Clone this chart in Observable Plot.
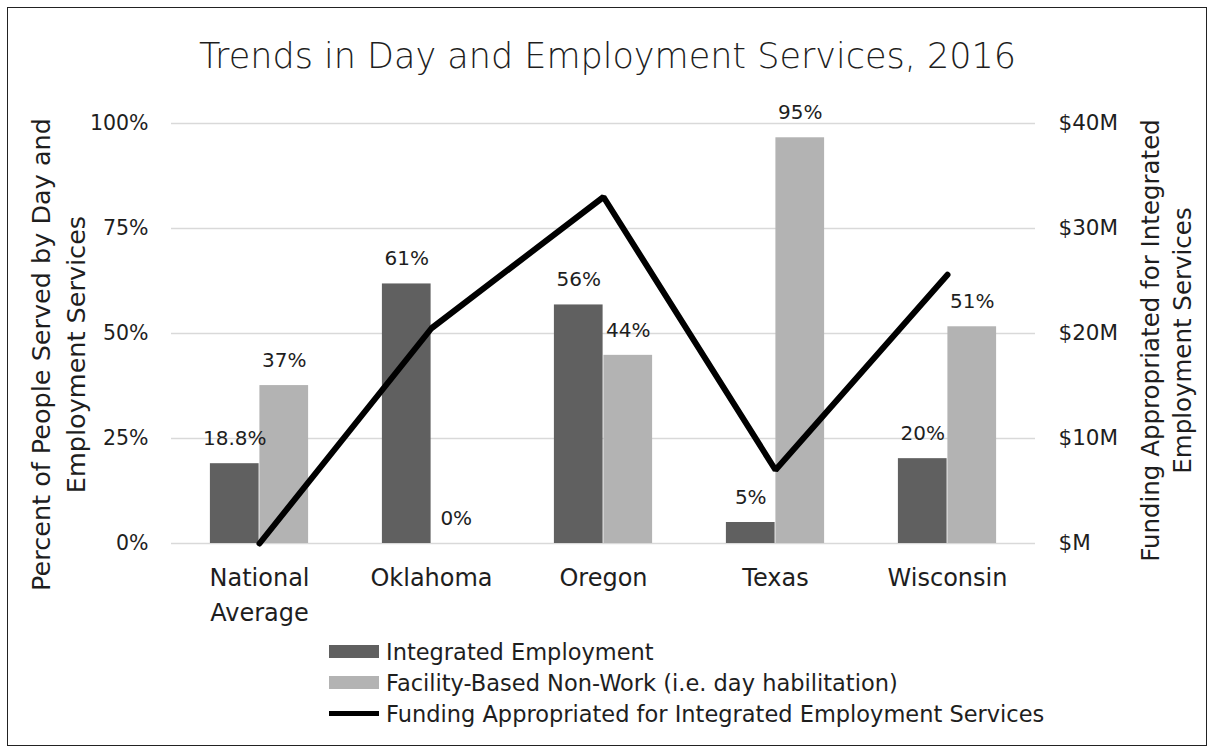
<!DOCTYPE html>
<html><head><meta charset="utf-8">
<script src="https://cdn.jsdelivr.net/npm/d3@7"></script>
<script src="https://cdn.jsdelivr.net/npm/@observablehq/plot@0.6"></script>
<style>
body{margin:0;background:#fff;}
#wrap{position:relative;width:1215px;height:751px;overflow:hidden;font-family:"DejaVu Sans",sans-serif;color:#1e1e1e;}
#border{position:absolute;left:7px;top:7px;width:1200px;height:739px;border:1.5px solid #222;box-sizing:border-box;}
#title{position:absolute;left:0;width:1215px;top:36px;text-align:center;font-size:35px;font-weight:300;}
#chart{position:absolute;left:0;top:0;}
#legend{position:absolute;left:329px;top:636px;font-size:22.5px;}
.row{display:flex;align-items:center;height:31px;}
.sw{width:50px;margin-right:7px;}
</style></head>
<body><div id="wrap"><div id="border"></div><div id="title"></div><div id="chart"></div><div id="legend"></div></div>
<script>
const title = "Trends in Day and Employment Services, 2016";
const categories = ["National\nAverage", "Oklahoma", "Oregon", "Texas", "Wisconsin"];
const integrated = [19, 61.8, 56.8, 5, 20.2];
const integratedLabels = ["18.8%", "61%", "56%", "5%", "20%"];
const facility = [37.6, 0, 44.8, 96.6, 51.6];
const facilityLabels = ["37%", "0%", "44%", "95%", "51%"];
const fundingM = [0, 20.5, 33, 7, 25.6];
const leftTicks = [0, 25, 50, 75, 100];
const rightTickLabels = ["$M", "$10M", "$20M", "$30M", "$40M"];
const seriesNames = ["Integrated Employment", "Facility-Based Non-Work (i.e. day habilitation)", "Funding Appropriated for Integrated Employment Services"];
const leftTitle = "Percent of People Served by Day and\nEmployment Services";
const rightTitle = "Funding Appropriated for Integrated\nEmployment Services";
const fundingMax = 40;

const dark = "#606060", light = "#b3b3b3", ink = "#1e1e1e";
const rowsI = categories.map((c, i) => ({c, v: integrated[i], l: integratedLabels[i]}));
const rowsF = categories.map((c, i) => ({c, v: facility[i], l: facilityLabels[i]}));
const rowsL = categories.map((c, i) => ({c, v: fundingM[i] / fundingMax * 100}));

const W = 1215, mL = 171, mR = 180;
const band = (W - mL - mR) / categories.length;
const barW = 49.5;

document.getElementById("title").textContent = title;

const plot = Plot.plot({
  width: W, height: 640,
  marginTop: 123, marginBottom: 97, marginLeft: mL, marginRight: mR,
  style: {fontFamily: '"DejaVu Sans", sans-serif', color: ink, background: "transparent"},
  x: {domain: categories, padding: 0, label: null},
  y: {domain: [0, 100], label: null},
  marks: [
    Plot.ruleY(leftTicks, {stroke: "#d9d9d9", strokeWidth: 1.5}),
    Plot.barY(rowsI, {x: "c", y: "v", fill: dark, insetLeft: band/2 - barW, insetRight: band/2}),
    Plot.barY(rowsF, {x: "c", y: "v", fill: light, insetLeft: band/2, insetRight: band/2 - barW}),
    Plot.text(rowsI, {x: "c", y: "v", text: "l", dx: -barW/2, dy: -25, fontSize: 20, fill: ink}),
    Plot.text(rowsF, {x: "c", y: "v", text: "l", dx: barW/2, dy: -25, fontSize: 20, fill: ink}),
    Plot.line(rowsL, {x: "c", y: "v", stroke: "#000", strokeWidth: 6, strokeLinejoin: "miter"}),
    Plot.axisY(leftTicks, {anchor: "left", tickSize: 0, tickPadding: 23, tickFormat: d => d + "%", fontSize: 20.5, label: null}),
    Plot.axisY(leftTicks, {anchor: "right", tickSize: 0, tickPadding: 23, tickFormat: d => rightTickLabels[leftTicks.indexOf(d)], fontSize: 21.5, label: null}),
    Plot.axisX({tickSize: 0, tickPadding: 18, fontSize: 24, label: null, lineHeight: 1.46}),
    Plot.text([leftTitle], {frameAnchor: "left", textAnchor: "middle", dx: -115, dy: 21, rotate: -90, fontSize: 25.5, lineHeight: 1.38, fill: ink}),
    Plot.text([rightTitle], {frameAnchor: "right", textAnchor: "middle", dx: 129, dy: 7, rotate: -90, fontSize: 24.5, lineHeight: 1.3, fill: ink})
  ]
});
document.getElementById("chart").appendChild(plot);

const legend = document.getElementById("legend");
seriesNames.forEach((name, i) => {
  const row = document.createElement("div"); row.className = "row";
  const sw = document.createElement("div"); sw.className = "sw";
  sw.style.background = i === 0 ? dark : i === 1 ? light : "#000";
  sw.style.height = i === 2 ? "5px" : "13px";
  const t = document.createElement("span"); t.textContent = name;
  row.appendChild(sw); row.appendChild(t); legend.appendChild(row);
});
</script></body></html>
